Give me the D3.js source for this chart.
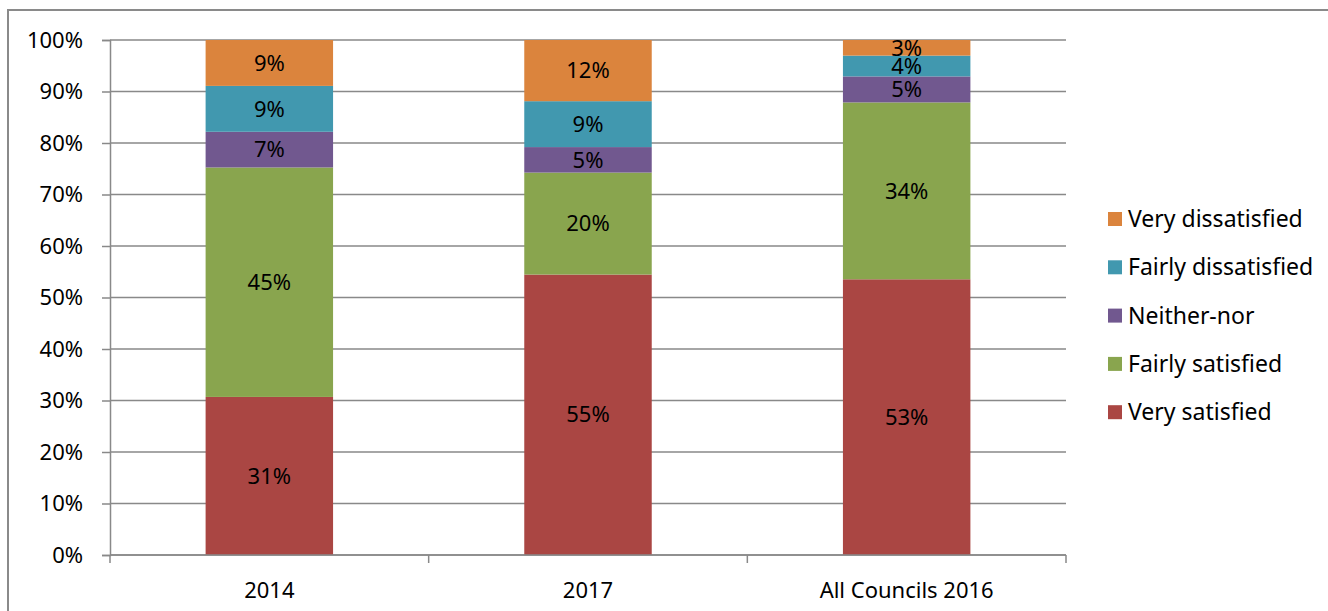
<!DOCTYPE html>
<html>
<head>
<meta charset="utf-8">
<script src="https://cdn.jsdelivr.net/npm/d3@7"></script>
<style>
  html, body { margin: 0; padding: 0; background: #fff; }
  svg { display: block; font-family: "Noto Sans", "Open Sans", sans-serif; }
</style>
</head>
<body>
<svg id="chart" width="1328" height="611"></svg>
<script>
// Survey responses, percentages per group
const categories = ["2014", "2017", "All Councils 2016"];
const seriesNames = ["Very satisfied", "Fairly satisfied", "Neither-nor", "Fairly dissatisfied", "Very dissatisfied"];
const verySatisfied      = [31, 55, 53];
const fairlySatisfied    = [45, 20, 34];
const neitherNor         = [7, 5, 5];
const fairlyDissatisfied = [9, 9, 4];
const veryDissatisfied   = [9, 12, 3];
const yTicks = [0, 10, 20, 30, 40, 50, 60, 70, 80, 90, 100];
const colors = ["#AA4643", "#89A54E", "#71588F", "#4198AF", "#DB843D"];

const seriesValues = [verySatisfied, fairlySatisfied, neitherNor, fairlyDissatisfied, veryDissatisfied];

// rows for the stack layout (100% stacked: each group normalised to its total)
const rows = categories.map((c, i) => {
  const r = { category: c };
  seriesNames.forEach((s, k) => { r[s] = seriesValues[k][i]; });
  return r;
});
const stacked = d3.stack().keys(seriesNames).offset(d3.stackOffsetExpand)(rows);

const svg = d3.select("#chart");
const margin = { left: 110, right: 1066, top: 40, bottom: 555 };

const x = d3.scaleBand().domain(categories).range([margin.left, margin.right])
  .paddingInner(0.6).paddingOuter(0.3);
const y = d3.scaleLinear().domain([0, 1]).range([margin.bottom, margin.top]);

const gridColor = "#898989";
const fontSize = 22;

// outer frame
svg.append("path")
  .attr("d", "M8,611 L8,10 L1328,10")
  .attr("fill", "none").attr("stroke", "#8a8a8a").attr("stroke-width", 2);

// horizontal gridlines
svg.append("g").selectAll("line").data(yTicks).join("line")
  .attr("x1", margin.left).attr("x2", margin.right)
  .attr("y1", d => y(d / 100)).attr("y2", d => y(d / 100))
  .attr("stroke", gridColor).attr("stroke-width", 1.5);

// y axis
const yAxis = d3.axisLeft(y).tickValues(yTicks.map(d => d / 100))
  .tickFormat(d => Math.round(d * 100) + "%").tickSize(8).tickPadding(19);
const gy = svg.append("g").attr("transform", `translate(${margin.left},0)`).call(yAxis);
gy.select(".domain").attr("stroke", gridColor).attr("stroke-width", 1.5);
gy.selectAll(".tick line").attr("stroke", gridColor).attr("stroke-width", 1.5);
gy.selectAll(".tick text").attr("font-size", fontSize).attr("fill", "#000")
  .attr("font-family", "'Noto Sans', sans-serif");

// bars
const layers = svg.append("g").selectAll("g").data(stacked).join("g")
  .attr("fill", (d, i) => colors[i]);
layers.selectAll("rect").data(d => d.map(p => ({ p, key: d.key }))).join("rect")
  .attr("x", d => x(d.p.data.category))
  .attr("width", x.bandwidth())
  .attr("y", d => y(d.p[1]))
  .attr("height", d => y(d.p[0]) - y(d.p[1]));

// x axis (category boundaries as ticks)
const boundaries = [0, 1, 2, 3].map(i => margin.left + i * x.step());
svg.append("line")
  .attr("x1", margin.left).attr("x2", margin.right)
  .attr("y1", margin.bottom).attr("y2", margin.bottom)
  .attr("stroke", gridColor).attr("stroke-width", 1.5);
svg.append("g").selectAll("line").data(boundaries).join("line")
  .attr("x1", d => d).attr("x2", d => d)
  .attr("y1", margin.bottom).attr("y2", margin.bottom + 8)
  .attr("stroke", gridColor).attr("stroke-width", 1.5);
svg.append("g").selectAll("text").data(categories).join("text")
  .attr("x", d => x(d) + x.bandwidth() / 2)
  .attr("y", 590)
  .attr("dy", "0.35em")
  .attr("text-anchor", "middle")
  .attr("font-size", fontSize).attr("fill", "#000")
  .text(d => d);

// data labels centred in each segment
layers.selectAll("text").data((d, k) => d.map(p => ({ p, k }))).join("text")
  .attr("x", d => x(d.p.data.category) + x.bandwidth() / 2)
  .attr("y", d => (y(d.p[0]) + y(d.p[1])) / 2)
  .attr("dy", "0.35em")
  .attr("text-anchor", "middle")
  .attr("font-size", fontSize).attr("fill", "#000")
  .text(d => seriesValues[d.k][categories.indexOf(d.p.data.category)] + "%");

// legend (top entry is the last series)
const legendItems = seriesNames.map((s, i) => ({ s, i })).reverse();
const lg = svg.append("g").selectAll("g").data(legendItems).join("g")
  .attr("transform", (d, j) => `translate(1108, ${219 + j * 48.3})`);
lg.append("rect").attr("x", 0).attr("y", -7).attr("width", 14).attr("height", 14)
  .attr("fill", d => colors[d.i]);
lg.append("text").attr("x", 20).attr("y", 0).attr("dy", "0.35em")
  .attr("font-size", 23).attr("fill", "#000")
  .text(d => d.s);
</script>
</body>
</html>
